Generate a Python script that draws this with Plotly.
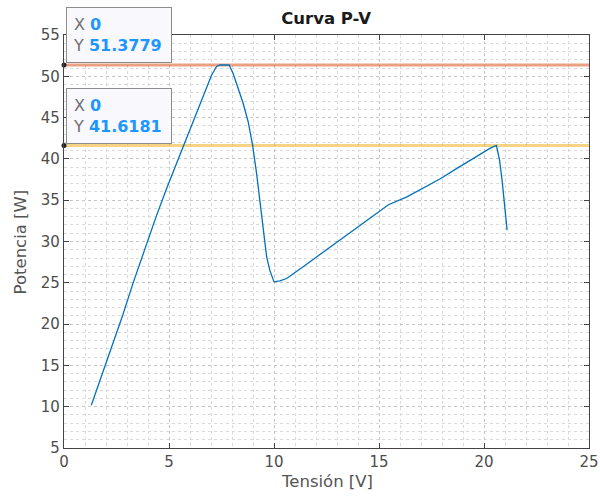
import plotly.graph_objects as go

# ---- data ----
tension_v = [1.30, 1.55, 1.85, 2.33, 2.80, 3.28, 3.85, 4.40, 4.90, 5.43, 5.75, 6.15,
             6.62, 7.02, 7.26, 7.42, 7.60, 7.86, 8.05, 8.29, 8.53, 8.77, 8.98, 9.17,
             9.49, 9.65, 9.80, 10.00, 10.28, 10.60, 11.39, 12.50, 13.50, 14.30, 15.05,
             15.45, 16.33, 16.96, 17.92, 18.71, 19.50, 20.06, 20.30, 20.59, 20.74,
             20.86, 20.97, 21.10]
potencia_w = [10.17, 12.00, 14.10, 17.50, 21.10, 24.90, 29.20, 33.10, 36.50, 39.90,
              42.00, 44.70, 47.70, 50.10, 51.16, 51.37, 51.38, 51.37, 50.36, 48.54,
              46.73, 44.50, 41.67, 38.24, 31.77, 28.14, 26.53, 25.11, 25.23, 25.52,
              26.95, 29.00, 30.90, 32.40, 33.80, 34.45, 35.40, 36.30, 37.60, 38.85,
              40.06, 40.86, 41.30, 41.62, 39.86, 37.43, 34.20, 31.37]

tip_x = [0, 0]
tip_y = [51.3779, 41.6181]
tip_line_colors = ["rgba(217,83,25,0.55)", "rgba(237,177,32,0.55)"]

x_range = [0, 25]
y_range = [5, 55]
x_ticks = [0, 5, 10, 15, 20, 25]
y_ticks = [5, 10, 15, 20, 25, 30, 35, 40, 45, 50, 55]

FONT = "DejaVu Sans"

fig = go.Figure()

# horizontal reference lines
for yv, col in zip(tip_y, tip_line_colors):
    fig.add_trace(go.Scatter(x=x_range, y=[yv, yv], mode="lines",
                             line=dict(color=col, width=3), hoverinfo="skip",
                             showlegend=False))

fig.add_trace(go.Scatter(x=tension_v, y=potencia_w, mode="lines",
                         line=dict(color="#0072BD", width=1.3), showlegend=False))

fig.add_trace(go.Scatter(x=tip_x, y=tip_y, mode="markers",
                         marker=dict(color="#222222", size=5), cliponaxis=False,
                         showlegend=False))

annotations = []
for xv, yv in zip(tip_x, tip_y):
    txt = (f"<span style='color:#707070'>X</span> <b><span style='color:#1e96ff'>{xv}</span></b><br>"
           f"<span style='color:#707070'>Y</span> <b><span style='color:#1e96ff'>{yv}</span></b>")
    annotations.append(dict(x=xv, y=yv, xref="x", yref="y", xanchor="left",
                            yanchor="bottom", xshift=2, yshift=2, text=txt,
                            showarrow=False, align="left", valign="middle",
                            bgcolor="#f9f9fd", bordercolor="#8c8c8c", borderwidth=1,
                            borderpad=6, width=92, height=42,
                            font=dict(family=FONT, size=16)))

annotations.append(dict(text="Tensión [V]", x=0.5, xref="paper", y=-0.08, yref="paper",
                        xanchor="center", yanchor="middle", showarrow=False,
                        font=dict(family=FONT, size=16.5, color="#555555")))
annotations.append(dict(text="Potencia [W]", x=-0.082, xref="paper", y=0.5, yref="paper",
                        xanchor="center", yanchor="middle", showarrow=False, textangle=-90,
                        font=dict(family=FONT, size=16.5, color="#555555")))

axis_common = dict(
    showline=True, linecolor="#444444", linewidth=1.2, mirror="ticks",
    ticks="inside", ticklen=5, tickcolor="#444444", tickwidth=1,
    showgrid=True, gridcolor="#c4c4c4", griddash="dot", gridwidth=1,
    zeroline=False, automargin=False,
    tickfont=dict(family=FONT, size=15, color="#4d4d4d"),
    minor=dict(dtick=1, showgrid=True, gridcolor="#dadada", griddash="dot", gridwidth=1,
               ticks=""),
)

fig.update_layout(
    width=600, height=498,
    margin=dict(l=64, r=11, t=35, b=50),
    paper_bgcolor="white", plot_bgcolor="white",
    title=dict(text="<b>Curva P-V</b>", x=0.5435, xanchor="center", y=1 - 18 / 498,
               yanchor="middle", yref="container",
               font=dict(family=FONT, size=16.5, color="#1a1a1a")),
    xaxis=dict(range=x_range, tickvals=x_ticks, **axis_common),
    yaxis=dict(range=y_range, tickvals=y_ticks, **axis_common),
    annotations=annotations,
    showlegend=False,
)

fig.write_html("out.html")
